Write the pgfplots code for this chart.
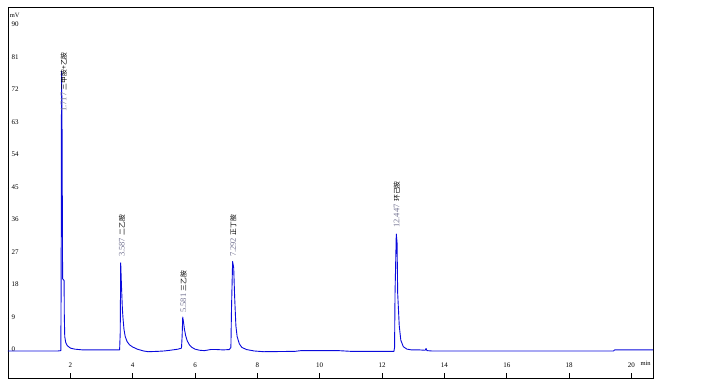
\documentclass[border=0pt]{standalone}
\usepackage{fontspec}
\setmainfont{Liberation Serif}
\newfontfamily\cjk{Noto Sans CJK SC}
\usepackage{pgfplots}
\pgfplotsset{compat=1.18}
\definecolor{sigblue}{RGB}{10,10,220}
\definecolor{numgray}{RGB}{115,115,145}
\newcommand{\pk}[2]{{\fontsize{8.5}{9}\selectfont\color{numgray}#1}\hspace{2.5pt}{\cjk\fontsize{6.8}{7}\selectfont #2}}
\begin{document}
\begin{tikzpicture}[x=1pt,y=1pt]
\begin{axis}[
  at={(0,0)}, anchor=south west,
  scale only axis, width=645pt, height=371pt,
  xmin=0, xmax=20.69, ymin=-7.48, ymax=95.26,
  axis line style={line width=0.8pt},
  xtick={2,4,...,20}, ytick={0,9,...,90},
  minor tick num=0,
  tick align=inside,
  major tick length=5pt,
  ytick style={/pgfplots/major tick length=1.5pt},
  xtick pos=bottom, ytick pos=left,
  tick style={black, line width=0.6pt},
  /pgf/number format/assume math mode=true,
  ticklabel style={font=\fontsize{7}{8}\selectfont},
  xticklabel style={anchor=south, yshift=6.5pt},
  yticklabel style={anchor=west, xshift=0pt, yshift=1.5pt},
  clip=false,
]
\addplot[sigblue, line width=0.9pt, line join=round] coordinates {
(0,0) (1.60,0) (1.695,0.1) (1.705,20) (1.712,60) (1.72,77.5) (1.735,60) (1.745,35) (1.752,20) (1.80,19.5) (1.806,10) (1.82,4) (1.85,2.4) (1.9,1.5) (2.0,0.8) (2.15,0.5) (2.4,0.3) (2.8,0.3) (3.2,0.3) (3.58,0.3)
(3.60,5) (3.615,24.4) (3.64,18) (3.67,11.5) (3.69,9) (3.72,6) (3.76,4) (3.82,2.6) (3.9,1.7) (4.0,1.1) (4.15,0.5) (4.35,0) (4.5,-0.2) (4.8,-0.1) (5.0,0) (5.2,0.2) (5.45,0.5) (5.565,0.8)
(5.585,4) (5.605,9.4) (5.63,8) (5.66,6) (5.70,4.2) (5.75,2.8) (5.82,1.7) (5.9,1.0) (6.0,0.5) (6.15,0.2) (6.3,0.1) (6.5,0.4) (6.7,0.4) (6.9,0.3) (7.1,0.4) (7.15,1)
(7.17,12) (7.205,24.8) (7.24,23) (7.27,15) (7.31,7) (7.35,4) (7.42,2) (7.5,1) (7.65,0.4) (7.9,0) (8.2,-0.2) (9.2,-0.1) (9.4,0.1) (10.6,0.1) (11.0,-0.1) (12.38,-0.1)
(12.40,1) (12.415,16) (12.455,32.4) (12.48,30) (12.50,16) (12.55,7) (12.60,3) (12.68,1.2) (12.8,0.5) (12.95,0.3) (13.2,0.3) (13.38,0.2) (13.41,0.7) (13.44,0.1) (13.6,0) (19.42,0) (19.46,0.3) (20.69,0.3)
};
\begin{scope}[every node/.style={rotate=90, anchor=west, inner sep=0pt}]
\node at (axis cs:1.79,66.2) {\pk{1.717}{三甲胺+乙胺}};
\node at (axis cs:3.66,26.0) {\pk{3.587}{二乙胺}};
\node at (axis cs:5.63,10.5) {\pk{5.581}{三乙胺}};
\node at (axis cs:7.23,26.0) {\pk{7.292}{正丁胺}};
\node at (axis cs:12.47,34.1) {\pk{12.447}{环己胺}};
\end{scope}
\node[anchor=east, inner sep=0pt, font=\fontsize{6.5}{7}\selectfont] at (axis cs:20.62,-3.3) {min};
\node[anchor=west, inner sep=0pt, font=\fontsize{6.5}{7}\selectfont] at (axis cs:0.05,93.0) {mV};
\end{axis}
\path (-8,-10) rectangle (707,378);
\end{tikzpicture}
\end{document}
